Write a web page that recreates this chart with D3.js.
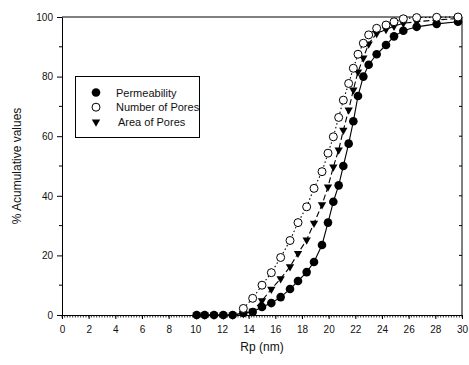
<!DOCTYPE html>
<html>
<head>
<meta charset="utf-8" />
<title>% Acumulative values vs Rp</title>
<script src="https://cdn.jsdelivr.net/npm/d3@7"></script>
<style>
    body { margin: 0; background: #fff; }
    svg { font-family: Arial, "Liberation Sans", sans-serif; }
</style>
</head>
<body>
<svg id="chart" width="469" height="365"></svg>
<script>
    // pore radius (nm), shared by the three series
    const rp = [10.1, 10.7, 11.4, 12.1, 12.8, 13.6, 14.3, 15.0, 15.7, 16.4, 17.1, 17.7, 18.35, 18.9, 19.5,
                19.95, 20.35, 20.75, 21.1, 21.5, 21.85, 22.2, 22.6, 23.0, 23.6, 24.3, 24.9, 25.6, 26.6, 28.1, 29.7];
    const permeability = [0, 0, 0, 0, 0, 0.7, 1.0, 2.7, 4.0, 6.0, 8.7, 11.4, 14.4, 17.8, 23.5,
                31, 38, 43.5, 50, 57.5, 65, 73.5, 80, 84, 87.5, 90.6, 93.5, 95.4, 96.7, 97.7, 98.4];
    const numberOfPores = [null, null, null, null, null, 2.2, 5.6, 10, 14.2, 19.3, 25, 31, 36.3, 42.5, 48.1,
                54.3, 59.8, 66.3, 72.1, 77.7, 82.8, 87.5, 91.2, 94, 96.2, 97.3, 98.4, 99.4, 99.8, 99.9, 100];
    const areaOfPores = [0, 0, 0, 0, 0, 0.5, 1.3, 4.8, 8.7, 12.2, 16.2, 20.7, 25.2, 30.8, 37,
                43, 49.7, 55.4, 62, 68.8, 75.5, 81.6, 86.3, 91, 94.5, 95.8, 96.9, 97.9, 98.4, 99, 99.5];

    const xTicks = d3.range(0, 31, 2);
    const yTicks = [0, 20, 40, 60, 80, 100];

    const series = [
        { name: 'Area of Pores', values: areaOfPores, marker: 'triangle', dash: '6,3' },
        { name: 'Permeability', values: permeability, marker: 'filled', dash: null },
        { name: 'Number of Pores', values: numberOfPores, marker: 'open', dash: '1.5,2.5' }
    ];
    const legendOrder = ['Permeability', 'Number of Pores', 'Area of Pores'];

    const svg = d3.select('#chart');
    const x = d3.scaleLinear().domain([0, 30]).range([62, 462]);
    const y = d3.scaleLinear().domain([0, 100]).range([315, 17]);

    // frame: top and right
    svg.append('line').attr('x1', x(0)).attr('x2', x(30)).attr('y1', y(100)).attr('y2', y(100))
        .attr('stroke', '#000');
    svg.append('line').attr('x1', x(30)).attr('x2', x(30)).attr('y1', y(100)).attr('y2', y(0))
        .attr('stroke', '#000');
    // right inward ticks
    svg.append('g').selectAll('line').data(d3.range(10, 100, 10)).enter().append('line')
        .attr('x1', x(30) - 3).attr('x2', x(30))
        .attr('y1', d => y(d)).attr('y2', d => y(d))
        .attr('stroke', '#000');

    // x axis
    const gx = svg.append('g').attr('transform', `translate(0,${y(0)})`)
        .call(d3.axisBottom(x).tickValues(xTicks).tickSize(4).tickPadding(7).tickSizeOuter(0));
    gx.select('.domain').attr('stroke', '#000');
    gx.selectAll('text').attr('font-size', 10).attr('fill', '#111').attr('font-family', null);
    gx.append('g').selectAll('line').data(d3.range(0, 30.01, 0.2)).enter().append('line')
        .attr('x1', d => x(d)).attr('x2', d => x(d)).attr('y1', 0).attr('y2', 2.5)
        .attr('stroke', '#000').attr('stroke-width', 0.8);

    // y axis
    const gy = svg.append('g').attr('transform', `translate(${x(0)},0)`)
        .call(d3.axisLeft(y).tickValues(yTicks).tickSize(5).tickPadding(4).tickSizeOuter(0));
    gy.select('.domain').attr('stroke', '#000');
    gy.selectAll('text').attr('font-size', 10).attr('fill', '#111').attr('font-family', null);
    gy.append('g').selectAll('line').data([10, 30, 50, 70, 90]).enter().append('line')
        .attr('x1', -3).attr('x2', 0).attr('y1', d => y(d)).attr('y2', d => y(d))
        .attr('stroke', '#000');

    // axis titles
    svg.append('text').attr('x', x(15)).attr('y', 351).attr('text-anchor', 'middle')
        .attr('font-size', 12).attr('fill', '#111').text('Rp (nm)');
    svg.append('text').attr('transform', `translate(21,${y(50)}) rotate(-90)`)
        .attr('text-anchor', 'middle').attr('font-size', 12).attr('fill', '#111')
        .text('% Acumulative values');

    const triangle = d3.symbol().type(d3.symbolTriangle).size(30);

    function drawMarker(g, kind) {
        if (kind === 'triangle') {
            g.append('path').attr('d', triangle()).attr('transform', 'rotate(180)').attr('fill', '#000');
        } else if (kind === 'filled') {
            g.append('circle').attr('r', 4.3).attr('fill', '#000');
        } else {
            g.append('circle').attr('r', 4).attr('fill', '#fff').attr('stroke', '#000').attr('stroke-width', 1);
        }
    }

    series.forEach(s => {
        const pts = rp.map((r, i) => [r, s.values[i]]).filter(d => d[1] !== null);
        const line = d3.line().x(d => x(d[0])).y(d => y(d[1]));
        svg.append('path').datum(pts).attr('d', line)
            .attr('fill', 'none').attr('stroke', '#000').attr('stroke-width', 1.1)
            .attr('stroke-dasharray', s.dash);
        svg.append('g').selectAll('g').data(pts).enter().append('g')
            .attr('transform', d => `translate(${x(d[0])},${y(d[1])})`)
            .each(function() { drawMarker(d3.select(this), s.marker); });
    });

    // legend
    const lg = svg.append('g');
    lg.append('rect').attr('x', 75.5).attr('y', 76.5).attr('width', 124).attr('height', 61)
        .attr('fill', '#fff').attr('stroke', '#000');
    legendOrder.forEach((name, i) => {
        const s = series.find(d => d.name === name);
        const row = lg.append('g').attr('transform', `translate(96,${92.5 + i * 14.7})`);
        drawMarker(row, s.marker);
        row.append('text').attr('x', name === 'Area of Pores' ? 22 : 20).attr('y', 4)
            .attr('font-size', 11).attr('fill', '#111').text(name);
    });
</script>
</body>
</html>
